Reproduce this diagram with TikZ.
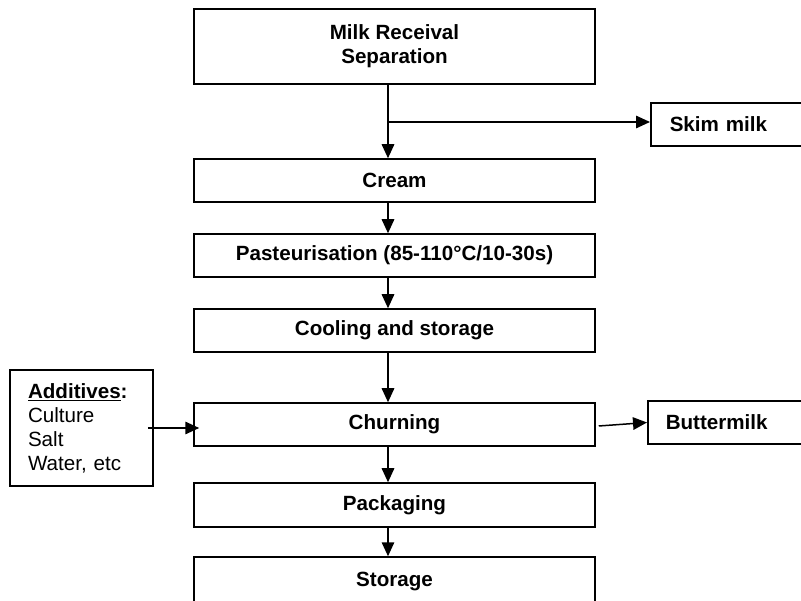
\documentclass[tikz,border=0pt]{standalone}
\usepackage{fontspec}
\setmainfont{Liberation Sans}
\usetikzlibrary{arrows.meta}
\begin{document}
\begin{tikzpicture}[x=1pt,y=-1pt,
  box/.style={draw, line width=1.5pt, minimum width=401pt, inner sep=0pt,
    font=\fontsize{20.6}{24}\selectfont\bfseries, align=center},
  sidebox/.style={draw, line width=1.5pt, inner ysep=0pt, align=left,
    font=\fontsize{20.6}{24}\selectfont\bfseries},
  arr/.style={line width=1.5pt, -{Triangle[length=14pt,width=12.5pt]}}]
\useasboundingbox (0,0) rectangle (801,601);
\clip (0,0) rectangle (801,601);
\fill[white] (0,0) rectangle (801,601);
\coordinate (spine) at (388,0);
\node[box, minimum height=75pt] (milk) at (394.5,46.5) {Milk Receival\\Separation};
\node[box, minimum height=43pt] (cream) at (394.5,180.5) {Cream};
\node[box, minimum height=43pt] (past) at (394.5,255.5) {Pasteurisation (85-110°C/10-30s)};
\node[box, minimum height=43pt] (cool) at (394.5,330.5) {Cooling and storage};
\node[box, minimum height=43pt] (churn) at (394.5,424.5) {Churning};
\node[box, minimum height=44pt] (pack) at (394.5,505) {Packaging};
\node[box, minimum height=48pt] (stor) at (394.5,581) {Storage};
\node[sidebox, anchor=west, minimum height=43pt, inner xsep=19pt, text width=150pt] (skim) at (650,124.5) {Skim milk};
\node[sidebox, anchor=west, minimum height=43pt, inner xsep=18pt, text width=150pt] (butter) at (647,422.5) {Buttermilk};
\node[draw, line width=1.5pt, minimum width=143pt, minimum height=116pt, inner xsep=18pt, inner ysep=0pt,
  text width=107pt, align=left, font=\fontsize{20.6}{24}\selectfont] (add) at (81.5,428)
  {\textbf{\underline{Additives}:}\\Culture\\Salt\\Water, etc};
\coordinate (br) at (388,122);
\draw[arr] (milk.south -| spine) -- (cream.north -| spine);
\draw[arr] (br) -- (br -| skim.west);
\draw[arr] (cream.south -| spine) -- (past.north -| spine);
\draw[arr] (past.south -| spine) -- (cool.north -| spine);
\draw[arr] (cool.south -| spine) -- (churn.north -| spine);
\draw[arr] (churn.south -| spine) -- (pack.north -| spine);
\draw[arr] (pack.south -| spine) -- (stor.north -| spine);
\draw[arr] ([xshift=-6pt]add.east) -- ([xshift=6pt]add.east -| churn.west);
\draw[arr] ([xshift=3pt,yshift=-1.5pt]churn.east) -- (butter.west);
\end{tikzpicture}
\end{document}
